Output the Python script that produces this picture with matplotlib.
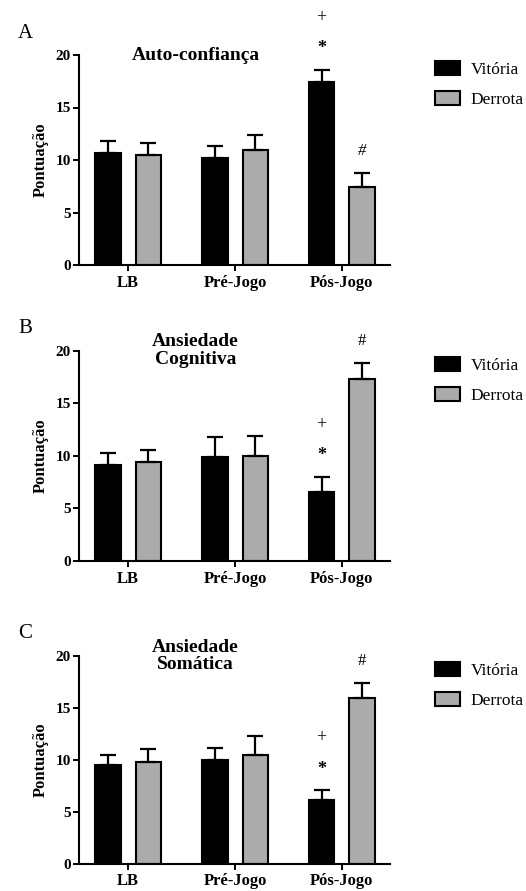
import numpy as np
import matplotlib
matplotlib.use('Agg')
import matplotlib.pyplot as plt

plt.rcParams['font.family'] = ['Liberation Serif', 'DejaVu Serif']

# dados (média e erro padrão, só a barra de cima)
grupos = ['LB', 'Pré-Jogo', 'Pós-Jogo']
series = ['Vitória', 'Derrota']

auto_vit = [10.7, 10.2, 17.4]
auto_vit_ep = [1.1, 1.1, 1.2]
auto_der = [10.5, 11.0, 7.4]
auto_der_ep = [1.1, 1.4, 1.4]

cog_vit = [9.1, 9.9, 6.6]
cog_vit_ep = [1.2, 1.9, 1.4]
cog_der = [9.4, 10.0, 17.3]
cog_der_ep = [1.2, 1.9, 1.5]

som_vit = [9.5, 10.0, 6.1]
som_vit_ep = [1.0, 1.1, 1.0]
som_der = [9.8, 10.5, 16.0]
som_der_ep = [1.2, 1.8, 1.4]

titulos = ['Auto-confiança', 'Ansiedade\nCognitiva', 'Ansiedade\nSomática']
letras = ['A', 'B', 'C']

## posições dos painéis em pixels (topo e base do eixo)
W, H = 526, 891
paineis = [(55, 265), (350.7, 561), (656, 863.7)]
x0, x1 = 79, 390

fig = plt.figure(figsize=(W / 100, H / 100), dpi=100)

dados = [
    (auto_vit, auto_vit_ep, auto_der, auto_der_ep),
    (cog_vit, cog_vit_ep, cog_der, cog_der_ep),
    (som_vit, som_vit_ep, som_der, som_der_ep),
]

x = np.arange(len(grupos))
larg = 0.24
desl = 0.19
ekw = dict(ecolor='black', elinewidth=1.6, capsize=6, capthick=1.6)

for i, (vit, vit_ep, der, der_ep) in enumerate(dados):
    topo, base = paineis[i]
    ax = fig.add_axes([x0 / W, 1 - base / H, (x1 - x0) / W, (base - topo) / H])

    ax.bar(x - desl, vit, larg, color='black', edgecolor='black', linewidth=1.5,
           yerr=[[0] * 3, vit_ep], error_kw=ekw, label=series[0], zorder=2)
    ax.bar(x + desl, der, larg, color='#ababab', edgecolor='black', linewidth=1.5,
           yerr=[[0] * 3, der_ep], error_kw=ekw, label=series[1], zorder=2)

    ax.set_xlim(-0.46, 2.45)
    ax.set_ylim(0, 20)
    ax.set_yticks([0, 5, 10, 15, 20])
    ax.set_xticks(x)
    ax.set_xticklabels(grupos, fontweight='bold', fontsize=12)
    for lab in ax.get_yticklabels():
        lab.set_fontweight('bold')
        lab.set_fontsize(11)
    ax.tick_params(axis='both', width=1.4, length=4, pad=2)
    ax.tick_params(axis='x', pad=3)
    for s in ['top', 'right']:
        ax.spines[s].set_visible(False)
    ax.spines['left'].set_linewidth(1.5)
    ax.spines['bottom'].set_linewidth(1.5)
    ax.set_ylabel('Pontuação', fontweight='bold', fontsize=12, labelpad=5)

    ax.text(0.63, 20, titulos[i], ha='center', va='center', fontsize=14,
            fontweight='bold', linespacing=1.05)

    # sinais de significância no Pós-Jogo
    ax.text(2 - desl, vit[2] + vit_ep[2] + 2.0, '*', ha='center', va='center',
            fontsize=13, fontweight='bold', clip_on=False)
    ax.text(2 - desl, vit[2] + vit_ep[2] + 5.0, '+', ha='center', va='center',
            fontsize=13, clip_on=False)
    ax.text(2 + desl, der[2] + der_ep[2] + 2.1, '#', ha='center', va='center',
            fontsize=12, fontstyle='italic' if i == 0 else 'normal', clip_on=False)

    ax.legend(loc='upper left', bbox_to_anchor=(1.145, 0.97), frameon=False,
              fontsize=12.5, borderpad=0, borderaxespad=0, handlelength=1.45,
              handleheight=0.86, handletextpad=0.6, labelspacing=0.75)

    fig.text(18 / W, 1 - (topo - 22) / H, letras[i], fontsize=15, ha='left', va='center')

fig.savefig('out.png', dpi=100)
